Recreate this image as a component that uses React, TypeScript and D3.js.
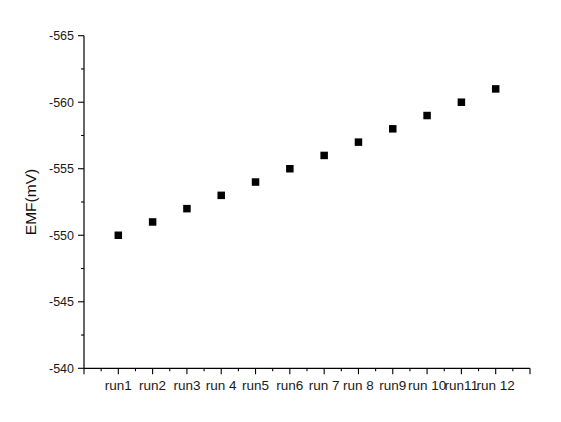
import React, { useEffect, useRef } from "react";
import * as d3 from "d3";

const categories = ["run1", "run2", "run3", "run 4", "run5", "run6", "run 7", "run 8", "run9", "run 10", "run11", "run 12"];
const emfValues = [-550, -551, -552, -553, -554, -555, -556, -557, -558, -559, -560, -561];
const yTicks = [-565, -560, -555, -550, -545, -540];

const W = 561;
const H = 422;
const left = 84;
const right = 530;
const top = 35.7;
const bottom = 368.3;
const FONT = "'Liberation Sans', Arial, sans-serif";

export default function App() {
  const ref = useRef<SVGSVGElement>(null);
  useEffect(() => {
    const svg = d3.select(ref.current);
    svg.selectAll("*").remove();
    const x = d3.scaleLinear().domain([0, 13]).range([left, right]);
    const y = d3.scaleLinear().domain([-565, -540]).range([top, bottom]);

    svg.append("rect").attr("width", W).attr("height", H).attr("fill", "#fff");

    // y axis
    const gy = svg.append("g");
    gy.append("line").attr("x1", left).attr("x2", left).attr("y1", top).attr("y2", bottom).attr("stroke", "#000").attr("stroke-width", 1.2);
    const yMinor = d3.range(-565, -539.9, 2.5);
    gy.selectAll("line.t").data(yMinor).enter().append("line")
      .attr("x1", (d) => (Number.isInteger(d / 5) ? left - 6 : left - 3))
      .attr("x2", left)
      .attr("y1", (d) => y(d)).attr("y2", (d) => y(d))
      .attr("stroke", "#000").attr("stroke-width", 1.1);
    gy.selectAll("text").data(yTicks).enter().append("text")
      .attr("x", left - 10).attr("y", (d) => y(d)).attr("dy", "0.36em")
      .attr("text-anchor", "end").attr("font-family", FONT).attr("font-size", 12.5)
      .attr("fill", "#1a1a1a").text((d) => String(d));

    // x axis
    const gx = svg.append("g");
    gx.append("line").attr("x1", left).attr("x2", right).attr("y1", bottom).attr("y2", bottom).attr("stroke", "#000").attr("stroke-width", 1.2);
    const xMinor = d3.range(0, 13.01, 0.5);
    gx.selectAll("line.t").data(xMinor).enter().append("line")
      .attr("x1", (d) => x(d)).attr("x2", (d) => x(d))
      .attr("y1", bottom)
      .attr("y2", (d) => (Number.isInteger(d) ? bottom + 6 : bottom + 3))
      .attr("stroke", "#000").attr("stroke-width", 1.1);
    gx.selectAll("text").data(categories).enter().append("text")
      .attr("x", (_d, i) => x(i + 1)).attr("y", 390)
      .attr("text-anchor", "middle").attr("font-family", FONT).attr("font-size", 13.5)
      .attr("fill", "#1a1a1a").text((d) => d);

    // y label
    svg.append("text")
      .attr("transform", `translate(36,202) rotate(-90)`)
      .attr("text-anchor", "middle").attr("font-family", FONT).attr("font-size", 15.5)
      .attr("fill", "#111").text("EMF(mV)");

    // points
    const s = 7.5;
    svg.append("g").selectAll("rect").data(emfValues).enter().append("rect")
      .attr("x", (_d, i) => x(i + 1) - s / 2)
      .attr("y", (d) => y(d) - s / 2)
      .attr("width", s).attr("height", s).attr("fill", "#000");
  }, []);
  return (
    <svg ref={ref} width={W} height={H} style={{ position: "absolute", left: 0, top: 0 }} />
  );
}
